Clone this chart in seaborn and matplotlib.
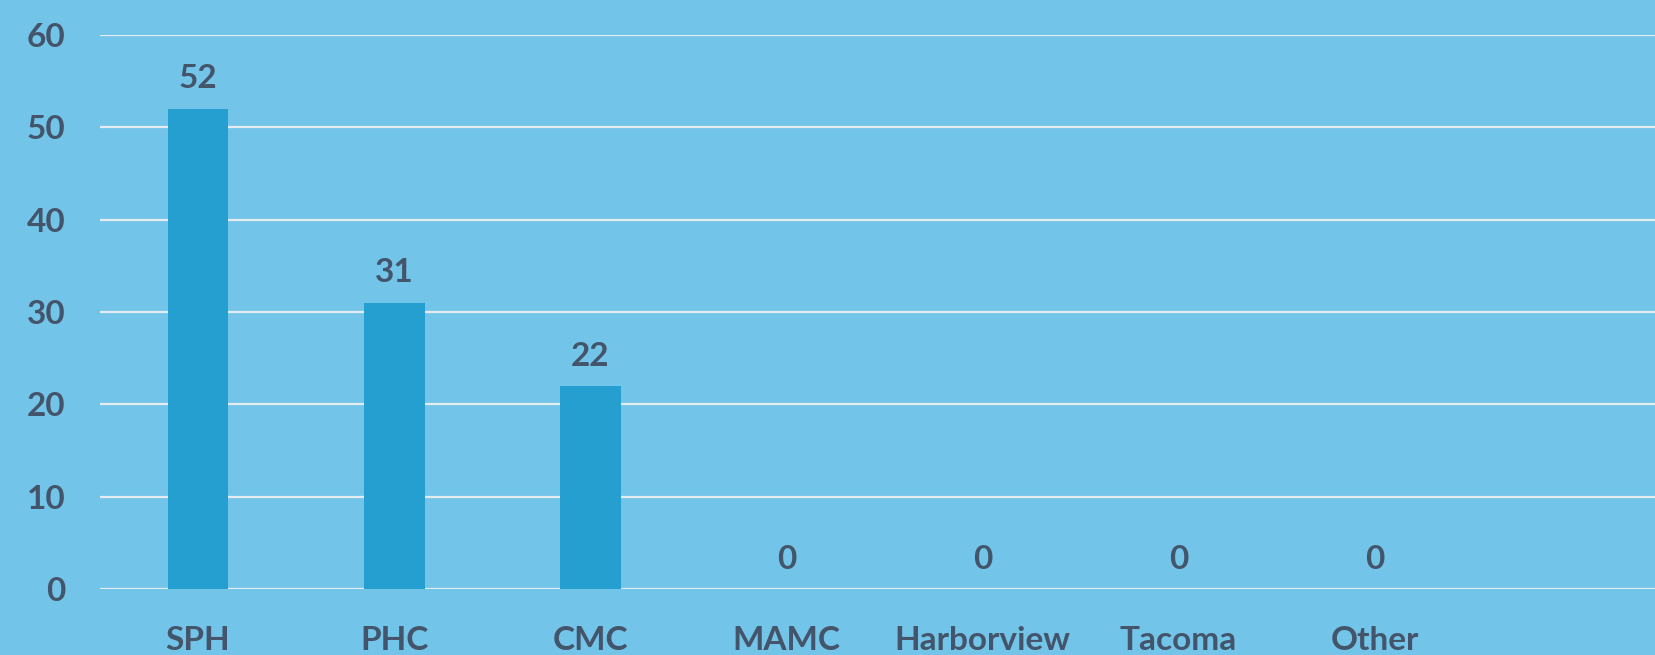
import pandas as pd
import seaborn as sns
import matplotlib.pyplot as plt

# Values
sites = ['SPH', 'PHC', 'CMC', 'MAMC', 'Harborview', 'Tacoma', 'Other']
counts = [52, 31, 22, 0, 0, 0, 0]
y_ticks = [0, 10, 20, 30, 40, 50, 60]

bg_color = '#72C5E9'
bar_color = '#249FD0'
text_color = '#44546A'
grid_color = '#E4ECF0'

df = pd.DataFrame({'site': sites, 'count': counts})

sns.set_style('white')
plt.rcParams['font.family'] = ['Lato', 'DejaVu Sans']
plt.rcParams['font.weight'] = 'bold'

fig = plt.figure(figsize=(16.55, 6.55), dpi=100)
fig.patch.set_facecolor(bg_color)
ax = fig.add_axes([100 / 1655, 1 - 589 / 655, 1 - 100 / 1655, (589 - 34.8) / 655])
ax.set_facecolor(bg_color)

sns.barplot(data=df, x='site', y='count', order=sites, color=bar_color,
            width=0.31, saturation=1, linewidth=0, ax=ax, zorder=3)

for c in ax.containers:
    ax.bar_label(c, fmt='%d', padding=11, fontsize=24, fontweight='bold',
                 color=text_color)

ax.set_ylim(0, 60)
ax.set_yticks(y_ticks)
ax.set_xlim(-0.5, 7.43)
ax.yaxis.grid(True, color=grid_color, linewidth=1.6, zorder=0)
ax.set_axisbelow(True)
for s in ax.spines.values():
    s.set_visible(False)

ax.tick_params(axis='both', length=0, labelsize=24, labelcolor=text_color)
ax.tick_params(axis='x', pad=27)
ax.tick_params(axis='y', pad=25)
for lbl in ax.get_xticklabels() + ax.get_yticklabels():
    lbl.set_fontweight('bold')

ax.set_xlabel('')
ax.set_ylabel('')

fig.savefig('out.png', dpi=100, facecolor=bg_color)
